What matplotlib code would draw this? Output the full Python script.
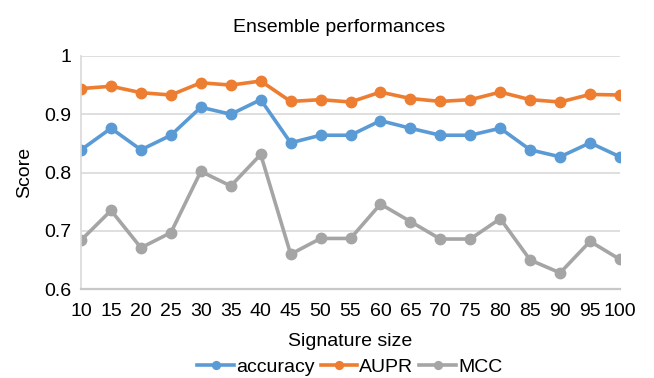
import matplotlib.pyplot as plt

plt.rcParams['font.family'] = ['Liberation Sans', 'DejaVu Sans']

sizes = [10, 15, 20, 25, 30, 35, 40, 45, 50, 55, 60, 65, 70, 75, 80, 85, 90, 95, 100]
accuracy = [0.839, 0.876, 0.839, 0.864, 0.912, 0.900, 0.925, 0.851, 0.864, 0.864,
            0.889, 0.876, 0.864, 0.864, 0.876, 0.839, 0.827, 0.851, 0.827]
aupr = [0.944, 0.948, 0.937, 0.933, 0.954, 0.950, 0.957, 0.922, 0.925, 0.921,
        0.938, 0.927, 0.922, 0.925, 0.938, 0.925, 0.921, 0.934, 0.933]
mcc = [0.684, 0.735, 0.671, 0.697, 0.802, 0.777, 0.831, 0.660, 0.687, 0.687,
       0.746, 0.716, 0.686, 0.686, 0.721, 0.650, 0.628, 0.682, 0.651]
yticks = [0.6, 0.7, 0.8, 0.9, 1.0]
ytick_labels = ['0.6', '0.7', '0.8', '0.9', '1']

fig = plt.figure(figsize=(6.54, 3.78), dpi=100)
ax = fig.add_axes([0.124, 0.235, 0.824, 0.617])

ax.plot(sizes, accuracy, color='#5B9BD5', lw=2.6, marker='o', ms=7.5, label='accuracy')
ax.plot(sizes, aupr, color='#ED7D31', lw=2.6, marker='o', ms=7.5, label='AUPR')
ax.plot(sizes, mcc, color='#A5A5A5', lw=2.6, marker='o', ms=7.5, label='MCC')

ax.set_xlim(10, 100)
ax.set_ylim(0.6, 1.0)
ax.set_xticks(sizes)
ax.set_xticklabels([str(s) for s in sizes], fontsize=14)
ax.set_yticks(yticks)
ax.set_yticklabels(ytick_labels, fontsize=14)
ax.tick_params(axis='x', length=0, pad=10)
ax.tick_params(axis='y', length=0, pad=7)
ax.yaxis.grid(True, color='#d9d9d9', lw=1.2)
ax.set_axisbelow(True)
for s in ['top', 'right']:
    ax.spines[s].set_visible(False)
ax.spines['left'].set_color('#d9d9d9')
ax.spines['left'].set_linewidth(1.2)
ax.spines['bottom'].set_color('#c8c8c8')
ax.spines['bottom'].set_linewidth(1.6)

ax.set_title('Ensemble performances', fontsize=14, pad=17, x=0.479)
ax.set_xlabel('Signature size', fontsize=14, labelpad=9)
ax.set_ylabel('Score', fontsize=14, labelpad=8)

fig.legend(loc='center', bbox_to_anchor=(0.535, 0.028), ncol=3, frameon=False,
           fontsize=14, handlelength=1.9, handletextpad=0.1, columnspacing=0.3,
           markerscale=0.75)

fig.savefig('out.png', dpi=100)
